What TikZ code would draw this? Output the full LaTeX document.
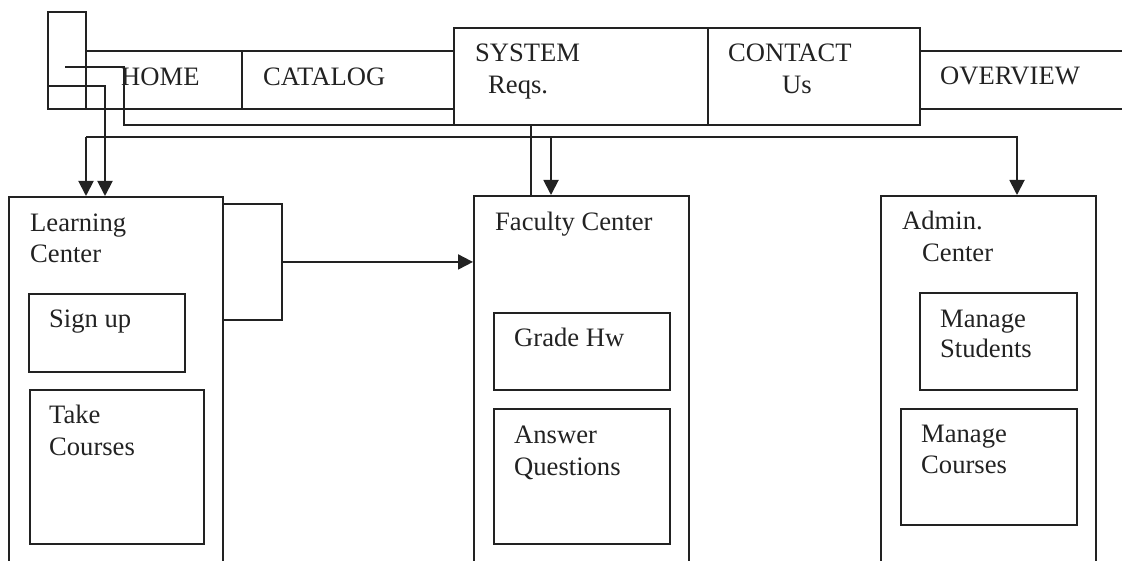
\documentclass[tikz,border=0pt]{standalone}
\usepackage{fontspec}
\setmainfont{Liberation Serif}
\usetikzlibrary{arrows.meta}
\definecolor{ink}{RGB}{34,34,34}
\begin{document}
\begin{tikzpicture}[x=1pt, y=-1pt,
  every node/.style={font=\fontsize{26.6}{31}\selectfont, text=ink},
  box/.style={draw=ink, line width=1.9pt, rectangle, inner sep=0pt, anchor=north west},
  lbl/.style={anchor=base west, inner sep=0pt},
  link/.style={draw=ink, line width=1.9pt},
  arr/.style={link, -{Triangle[length=15pt,width=15pt]}}]
\useasboundingbox (0,0) rectangle (1122,561);
\clip (0,0) rectangle (1122,561);

% navigation bar
\node[box, minimum width=38pt,  minimum height=97pt] (navicon)  at (47,11)  {};
\node[box, minimum width=156pt, minimum height=58pt] (home)     at (85,50)  {};
\node[box, minimum width=212pt, minimum height=58pt] (catalog)  at (241,50) {};
\node[box, minimum width=254pt, minimum height=97pt] (system)   at (453,27) {};
\node[box, minimum width=212pt, minimum height=97pt] (contact)  at (707,27) {};
\node[box, minimum width=260pt, minimum height=58pt] (overview) at (919,50) {};

\node[lbl] (t-home)     at (121,86) {HOME};
\node[lbl] (t-catalog)  at (263,86) {CATALOG};
\node[lbl] (t-system)   at (475,62) {SYSTEM};
\node[lbl] (t-reqs)     at (488,94) {Reqs.};
\node[lbl] (t-contact)  at (728,62) {CONTACT};
\node[lbl] (t-us)       at (782,94) {Us};
\node[lbl] (t-overview) at (940,85) {OVERVIEW};

% learning center
\node[box, minimum width=214pt, minimum height=400pt] (learn)   at (8,196)   {};
\node[box, minimum width=59pt,  minimum height=116pt] (bracket) at (222,203) {};
\node[box, minimum width=156pt, minimum height=78pt]  (signup)  at (28,293)  {};
\node[box, minimum width=174pt, minimum height=154pt] (take)    at (29,389)  {};
\node[lbl] (t-learn1) at (30,232)  {Learning};
\node[lbl] (t-learn2) at (30,263)  {Center};
\node[lbl] (t-signup) at (49,328)  {Sign up};
\node[lbl] (t-take1)  at (49,423)  {Take};
\node[lbl] (t-take2)  at (49,455)  {Courses};

% faculty center
\node[box, minimum width=215pt, minimum height=400pt] (faculty) at (473,195) {};
\node[box, minimum width=176pt, minimum height=77pt]  (grade)   at (493,312) {};
\node[box, minimum width=176pt, minimum height=135pt] (answer)  at (493,408) {};
\node[lbl] (t-faculty) at (495,231) {Faculty Center};
\node[lbl] (t-grade)   at (514,347) {Grade Hw};
\node[lbl] (t-answer1) at (514,443) {Answer};
\node[lbl] (t-answer2) at (514,475) {Questions};

% admin center
\node[box, minimum width=215pt, minimum height=400pt] (admin)   at (880,195) {};
\node[box, minimum width=157pt, minimum height=97pt]  (mstud)   at (919,292) {};
\node[box, minimum width=176pt, minimum height=116pt] (mcourse) at (900,408) {};
\node[lbl] (t-admin1)  at (902,230) {Admin.};
\node[lbl] (t-admin2)  at (922,262) {Center};
\node[lbl] (t-mstud1)  at (940,327) {Manage};
\node[lbl] (t-mstud2)  at (940,357) {Students};
\node[lbl] (t-mcour1)  at (921,442) {Manage};
\node[lbl] (t-mcour2)  at (921,473) {Courses};

% connectors
\coordinate (iconTap) at (47,86);
\coordinate (iconBend) at (105,86);
\draw[arr] (iconTap) -- (iconBend) -- (iconBend |- learn.north);

\coordinate (stub) at (65,67);
\coordinate (sysTap) at (531,125);
\draw[link] (stub) -- (124,67) -- (124,125) -- (sysTap) -- (sysTap |- faculty.north);

\coordinate (hub) at (86,137);
\coordinate (facTap) at (551,137);
\coordinate (adminTap) at (1017,137);
\draw[arr] (hub) -- (hub |- learn.north);
\draw[arr] (hub) -- (adminTap) -- (adminTap |- admin.north);
\draw[arr] (facTap) -- (facTap |- faculty.north);

\draw[arr] (bracket.east) -- (bracket.east -| faculty.west);
\end{tikzpicture}
\end{document}
